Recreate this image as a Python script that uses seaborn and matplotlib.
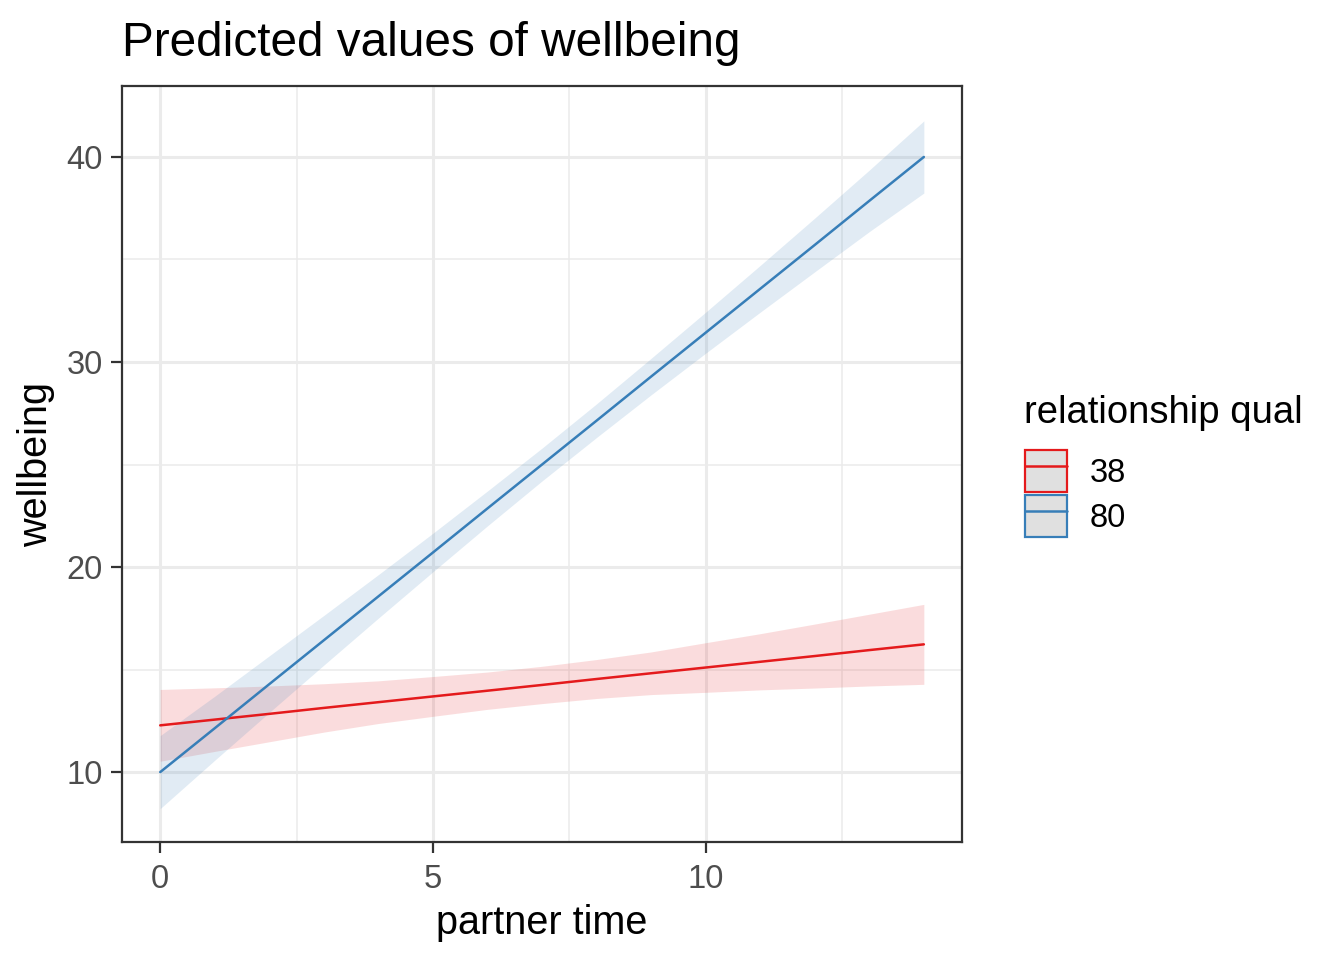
import seaborn as sns
import matplotlib.pyplot as plt
import pandas as pd
from matplotlib.patches import Patch
from matplotlib.lines import Line2D
from matplotlib.ticker import MultipleLocator

# partner time values where predictions were read
partner_time = [0, 1, 2, 3, 4, 5, 6, 7, 8, 9, 10, 11, 12, 13, 14]

# relationship qual = 38
pred_38 = [12.28, 12.56, 12.84, 13.13, 13.41, 13.69, 13.97, 14.25, 14.54, 14.82, 15.10, 15.38, 15.66, 15.95, 16.23]
low_38 = [10.53, 11.01, 11.48, 11.95, 12.37, 12.72, 13.06, 13.34, 13.59, 13.78, 13.89, 14.01, 14.10, 14.20, 14.28]
high_38 = [14.03, 14.11, 14.20, 14.31, 14.45, 14.66, 14.88, 15.16, 15.49, 15.86, 16.31, 16.75, 17.22, 17.70, 18.18]

# relationship qual = 80
pred_80 = [10.00, 12.14, 14.29, 16.43, 18.57, 20.71, 22.86, 25.00, 27.14, 29.29, 31.43, 33.57, 35.71, 37.86, 40.00]
low_80 = [8.22, 10.58, 12.91, 15.22, 17.51, 19.77, 22.01, 24.20, 26.32, 28.40, 30.43, 32.43, 34.40, 36.36, 38.24]
high_80 = [11.78, 13.70, 15.67, 17.64, 19.63, 21.65, 23.71, 25.80, 27.96, 30.18, 32.43, 34.71, 37.02, 39.36, 41.76]

groups = ["38", "80"]
colors = {"38": "#E41A1C", "80": "#377EB8"}

df = pd.concat([
    pd.DataFrame({"partner time": partner_time, "wellbeing": pred_38,
                  "low": low_38, "high": high_38, "relationship qual": "38"}),
    pd.DataFrame({"partner time": partner_time, "wellbeing": pred_80,
                  "low": low_80, "high": high_80, "relationship qual": "80"}),
])

sns.set_theme(style="white")
plt.rcParams['font.family'] = ['Liberation Sans', 'DejaVu Sans']

fig = plt.figure(figsize=(13.44, 9.6), dpi=100)
ax = fig.add_axes([0.0908, 0.1229, 0.6250, 0.7875])

# grid (theme_bw look)
ax.xaxis.set_minor_locator(MultipleLocator(2.5))
ax.yaxis.set_minor_locator(MultipleLocator(5))
ax.xaxis.set_major_locator(MultipleLocator(5))
ax.yaxis.set_major_locator(MultipleLocator(10))
ax.grid(which="major", color="#EBEBEB", linewidth=2.2)
ax.grid(which="minor", color="#EBEBEB", linewidth=1.1)
ax.set_axisbelow(True)

# confidence bands
for g in groups:
    sub = df[df["relationship qual"] == g]
    ax.fill_between(sub["partner time"], sub["low"], sub["high"],
                    color=colors[g], alpha=0.15, linewidth=0)

sns.lineplot(data=df, x="partner time", y="wellbeing", hue="relationship qual",
             palette=colors, linewidth=1.8, errorbar=None, legend=False, ax=ax)

ax.set_xlim(-0.7, 14.7)
ax.set_ylim(6.59, 43.46)

for sp in ax.spines.values():
    sp.set_color("#333333")
    sp.set_linewidth(1.6)

ax.tick_params(axis="both", which="major", length=8, width=1.6, color="#333333",
               labelsize=23.5, labelcolor="#4D4D4D", bottom=True, left=True)
ax.tick_params(axis="x", which="major", pad=8)
ax.tick_params(axis="y", which="major", pad=6)
ax.tick_params(axis="both", which="minor", length=0)

ax.set_xlabel("partner time", fontsize=28.5, color="black", labelpad=6)
ax.set_ylabel("wellbeing", fontsize=28.5, color="black", labelpad=8)
fig.text(0.0908, 0.955, "Predicted values of wellbeing", fontsize=34.4,
         ha="left", va="center", color="black")

# legend title and entries with grey key boxes
fig.text(1024 / 1344, 1 - 423 / 960, "relationship qual", fontsize=27.5,
         ha="left", va="baseline", color="black")
handles = []
for g in groups:
    box = Patch(facecolor="#E0E0E0", edgecolor=colors[g], linewidth=1.6)
    ln = Line2D([0], [0], color=colors[g], linewidth=1.8)
    handles.append((box, ln))
leg = fig.legend(handles, groups, loc="upper left",
                 bbox_to_anchor=(1025 / 1344, 1 - 450 / 960), frameon=False,
                 fontsize=23.5, handlelength=1.29, handleheight=1.6,
                 handletextpad=0.7, labelspacing=0.09, borderpad=0,
                 borderaxespad=0)
for t in leg.get_texts():
    t.set_color("black")

fig.savefig("out.png", dpi=100)
